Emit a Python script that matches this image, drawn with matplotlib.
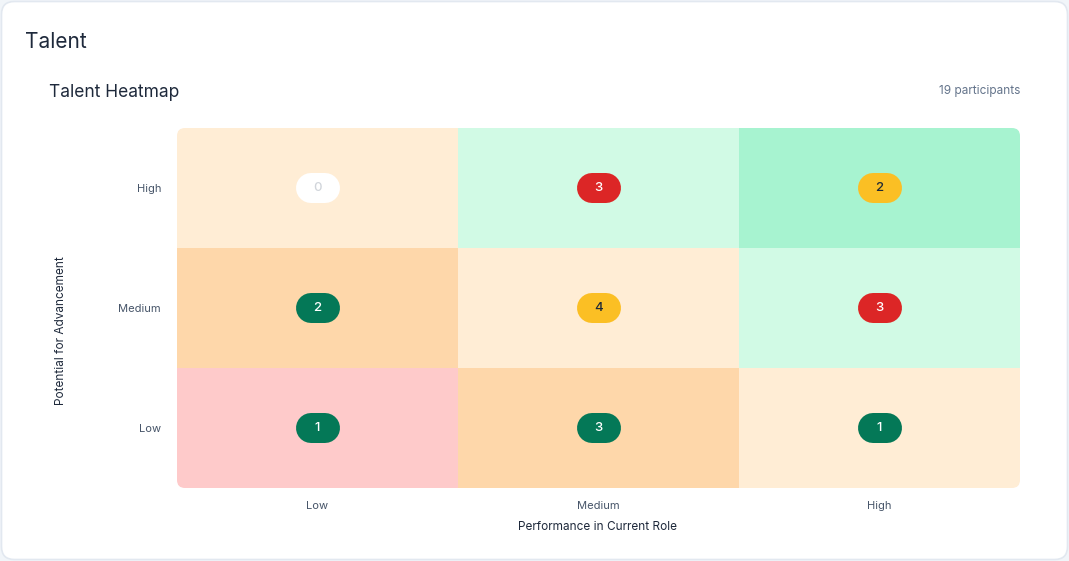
import numpy as np
import matplotlib.pyplot as plt
from matplotlib.patches import FancyBboxPatch
from matplotlib.colors import to_rgb

plt.rcParams['font.family'] = ['Inter', 'DejaVu Sans']

PERFORMANCE = ["Low", "Medium", "High"]
POTENTIAL = ["Low", "Medium", "High"]  # bottom to top

# counts[row][col], row = potential (Low..High), col = performance (Low..High)
COUNTS = [
    [1, 3, 1],
    [2, 4, 3],
    [0, 3, 2],
]

CELL_COLORS = [
    ["#fecaca", "#fed7aa", "#ffedd5"],
    ["#fed7aa", "#ffedd5", "#d1fae5"],
    ["#ffedd5", "#d1fae5", "#a7f3d0"],
]

BADGE_COLORS = [
    ["#047857", "#047857", "#047857"],
    ["#047857", "#fbbf24", "#dc2626"],
    ["#ffffff", "#dc2626", "#fbbf24"],
]

BADGE_TEXT = [
    ["white", "white", "white"],
    ["white", "#1f2937", "white"],
    ["#d1d5db", "white", "#1f2937"],
]

TOTAL = sum(sum(r) for r in COUNTS)

W, H = 1069, 561
fig = plt.figure(figsize=(W / 100, H / 100), dpi=100)
fig.patch.set_facecolor("#f1f5f9")

card = FancyBboxPatch((1.5 / W, 1.5 / H), (W - 3) / W, (H - 3) / H,
                      boxstyle="round,pad=0,rounding_size=0.012",
                      mutation_aspect=W / H,
                      transform=fig.transFigure, facecolor="white",
                      edgecolor="#e2e8f0", linewidth=1.2, zorder=-5)
fig.patches.append(card)

fig.text(25 / W, 1 - 42 / H, "Talent", fontsize=15, color="#1e293b", va="center")
fig.text(49 / W, 1 - 92 / H, "Talent Heatmap", fontsize=12.5, color="#1e293b",
         va="center")
fig.text(1020 / W, 1 - 91 / H, f"{TOTAL} participants", fontsize=8.5,
         color="#64748b", va="center", ha="right")

# heatmap area in pixels
x0, x1, y0, y1 = 177, 1020, 128, 488
ax = fig.add_axes([x0 / W, 1 - y1 / H, (x1 - x0) / W, (y1 - y0) / H])
ax.patch.set_visible(False)

rgb = np.array([[to_rgb(c) for c in row] for row in CELL_COLORS])
im = ax.imshow(rgb, origin="lower", extent=(-0.5, 2.5, -0.5, 2.5),
               aspect="auto", interpolation="nearest")

px_x = 3 / (x1 - x0)   # data units per pixel, x
px_y = 3 / (y1 - y0)   # data units per pixel, y
clip = FancyBboxPatch((-0.5, -0.5), 3, 3,
                      boxstyle=f"round,pad=0,rounding_size={8 * px_x}",
                      mutation_aspect=px_y / px_x,
                      transform=ax.transData, facecolor="none", edgecolor="none")
ax.add_patch(clip)
im.set_clip_path(clip)

# pill badges: thick line with round caps (44 x 30 px)
bw, bh = 44, 30
half = (bw - bh) / 2 * px_x
lw = bh * 72 / 100
for r in range(3):
    for c in range(3):
        ax.plot([c - half, c + half], [r, r], color=BADGE_COLORS[r][c],
                linewidth=lw, solid_capstyle="round", zorder=3)
        ax.text(c, r, str(COUNTS[r][c]), ha="center", va="center",
                fontsize=9.5, fontweight="medium",
                color=BADGE_TEXT[r][c], zorder=4)

ax.set_xlim(-0.5, 2.5)
ax.set_ylim(-0.5, 2.5)
ax.set_xticks(range(3))
ax.set_xticklabels(PERFORMANCE)
ax.set_yticks(range(3))
ax.set_yticklabels(POTENTIAL)
ax.tick_params(length=0, labelsize=8, labelcolor="#475569")
ax.tick_params(axis="x", pad=9.5)
ax.tick_params(axis="y", pad=11.5)
for s in ax.spines.values():
    s.set_visible(False)

fig.text(598 / W, 1 - 527 / H, "Performance in Current Role", fontsize=8.5,
         color="#1e293b", ha="center", va="center")
fig.text(61 / W, 1 - 331 / H, "Potential for Advancement", fontsize=8.5,
         color="#1e293b", ha="center", va="center", rotation=90)

fig.savefig("out.png", dpi=100, facecolor=fig.get_facecolor())
